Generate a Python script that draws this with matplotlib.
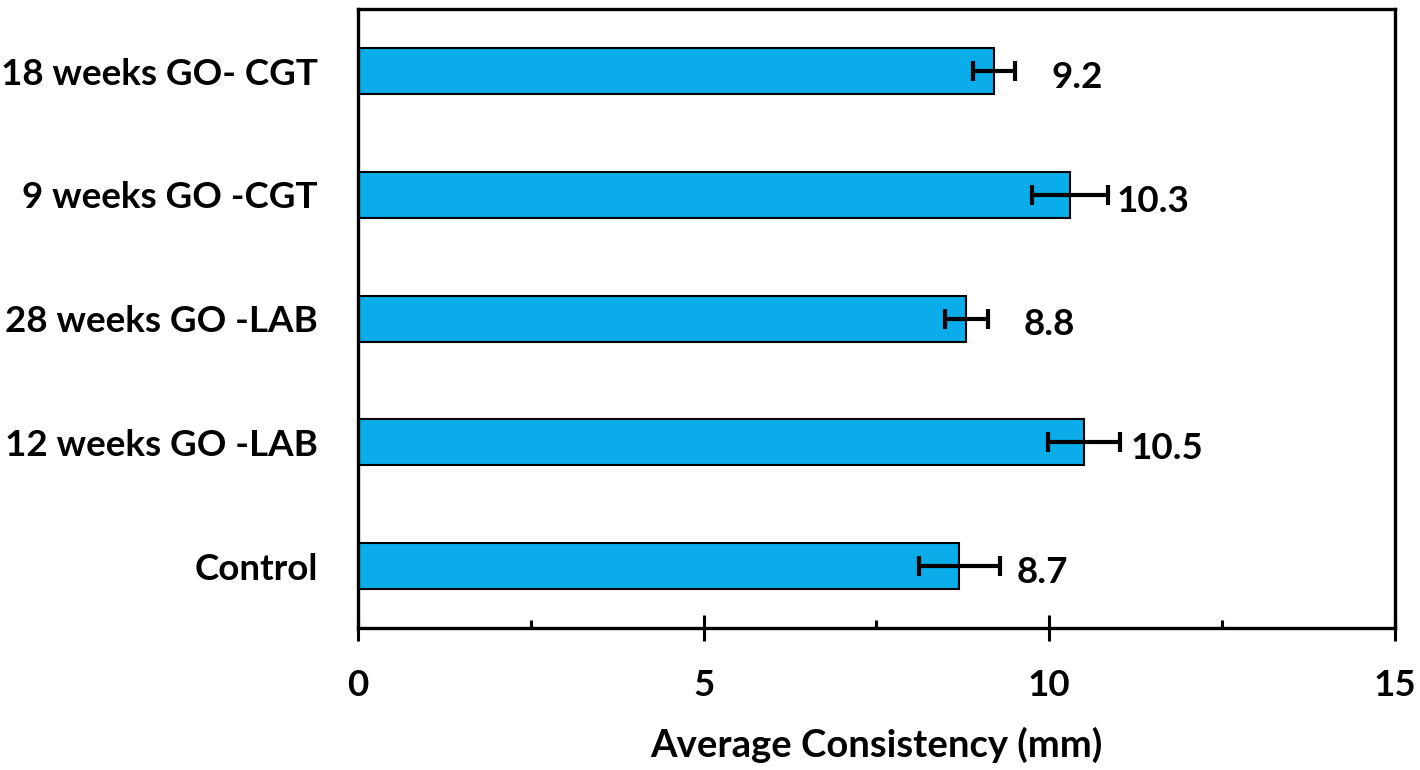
import matplotlib
matplotlib.use("Agg")
import matplotlib.pyplot as plt
from matplotlib.ticker import MultipleLocator

categories = ["Control", "12 weeks GO -LAB", "28 weeks GO -LAB", "9 weeks GO -CGT", "18 weeks GO- CGT"]
values = [8.7, 10.5, 8.8, 10.3, 9.2]
errors = [0.58, 0.52, 0.31, 0.55, 0.31]
value_labels = ["8.7", "10.5", "8.8", "10.3", "9.2"]
x_ticks = [0, 5, 10, 15]

plt.rcParams['font.family'] = ['Lato', 'DejaVu Sans']
plt.rcParams['font.weight'] = 'bold'

FS = 26.5

fig = plt.figure(figsize=(14.2, 7.7), dpi=100)
ax = fig.add_axes([0.2521, 0.1844, 0.9824 - 0.2521, 0.988 - 0.1844])

y = list(range(len(categories)))
ax.barh(y, values, height=0.37, color="#0AACEA", edgecolor="black", linewidth=1.5,
        xerr=errors, error_kw=dict(ecolor="black", elinewidth=3, capsize=7, capthick=3), zorder=2)

for yi, v, lab in zip(y, values, value_labels):
    ax.text(v + 1.2, yi - 0.05, lab, ha="center", va="center", fontsize=FS, fontweight="bold")

ax.set_xlim(0, 15)
ax.set_ylim(-0.5, 4.5)
ax.set_yticks(y)
ax.set_yticklabels(categories, fontsize=FS, fontweight="bold")
ax.set_xticks(x_ticks)
ax.set_xticklabels([str(t) for t in x_ticks], fontsize=FS, fontweight="bold")
ax.xaxis.set_minor_locator(MultipleLocator(2.5))
ax.tick_params(axis="y", length=0, pad=29)
ax.tick_params(axis="x", which="major", direction="inout", length=19, width=2.2, pad=20)
ax.tick_params(axis="x", which="minor", direction="in", length=6, width=2.2)
for s in ax.spines.values():
    s.set_linewidth(2.4)
ax.set_xlabel("Average Consistency (mm)", fontsize=27.5, fontweight="bold", labelpad=18)

fig.savefig("out.png", dpi=100)
